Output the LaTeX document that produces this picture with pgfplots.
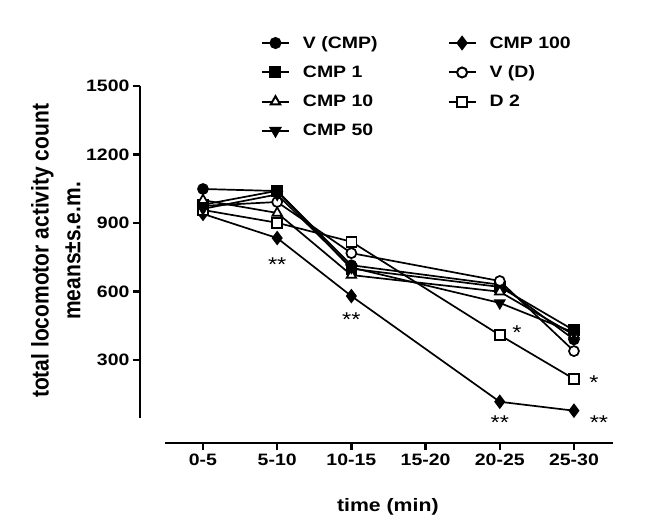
\documentclass[border=0pt]{standalone}
\usepackage{pgfplots}
\pgfplotsset{compat=1.18}
\usepackage{fontspec}
\setmainfont{Liberation Sans}[FakeStretch=1.18]
\newfontfamily\ylabfont{Liberation Sans}
\begin{document}
\begin{tikzpicture}
\begin{axis}[
 scale only axis, width=473pt, height=357pt,
 xmin=-0.849, xmax=5.526, ymin=-63.5, ymax=1500,
 axis lines=left, axis line style={draw=none},
 xtick={0,...,5}, xticklabels={0-5,5-10,10-15,15-20,20-25,25-30},
 ytick={300,600,900,1200,1500},
 tick align=outside, major tick length=7pt,
 tick style={line width=2.4pt, black},
 /pgf/number format/assume math mode=true,
 /pgf/number format/1000 sep={},
 tick label style={font=\bfseries\fontsize{16.5}{18}\selectfont},
 xlabel={time (min)},
 xlabel style={font=\bfseries\fontsize{18}{20}\selectfont, at={(axis description cs:0.524,-0.179)}, anchor=center},
 ylabel={total locomotor activity count\\means±s.e.m.},
 ylabel style={font=\ylabfont\bfseries\fontsize{21}{27.5}\selectfont, align=center, at={(axis description cs:-0.178,0.538)}, anchor=center, yscale=1.15},
 clip=false,
 every axis plot/.append style={line width=1.7pt, black, mark size=5pt},
 legend columns=2, legend cell align=left,
 legend style={draw=none, fill=none, at={(axis description cs:0.249,1.151)}, anchor=north west,
   font=\bfseries\fontsize{16.5}{18}\selectfont, row sep=12pt,
   /tikz/every even column/.append style={column sep=68pt}},
 legend image code/.code={\draw[mark repeat=2,mark phase=2,line width=2pt,#1] plot coordinates {(0pt,0pt) (13.5pt,0pt) (27pt,0pt)};
   \path[draw=none,fill=none] (0pt,0pt) -- (39pt,0pt);},
]
% V (CMP)
\addplot[mark=*, mark options={fill=black}] coordinates {(0,1049) (1,1040) (2,715) (4,630) (5,390)};
\addlegendentry{V (CMP)}
% CMP 100
\addplot[mark=diamond*, mark size=6pt, mark options={fill=black}] coordinates {(0,940) (1,834) (2,580) (4,117) (5,78)};
\addlegendentry{CMP 100}
% CMP 1
\addplot[mark=square*, mark options={fill=black}] coordinates {(0,980) (1,1041) (2,700) (4,620) (5,430)};
\addlegendentry{CMP 1}
% V (D)
\addplot[mark=*, mark options={fill=white}] coordinates {(0,975) (1,992) (2,768) (4,646) (5,339)};
\addlegendentry{V (D)}
% CMP 10
\addplot[mark=triangle*, mark size=5.5pt, mark options={fill=white}] coordinates {(0,1000) (1,944) (2,672) (4,599) (5,410)};
\addlegendentry{CMP 10}
% D 2
\addplot[mark=square*, mark options={fill=white}] coordinates {(0,957) (1,901) (2,818) (4,409) (5,217)};
\addlegendentry{D 2}
% CMP 50
\addplot[mark=triangle*, mark size=5.5pt, mark options={fill=black, rotate=180}] coordinates {(0,962) (1,1025) (2,705) (4,550) (5,420)};
\addlegendentry{CMP 50}

\draw[line width=2.8pt] (axis cs:-0.51,-63.5) -- (axis cs:5.526,-63.5);
\draw[line width=2.8pt] (axis cs:-0.849,46) -- (axis cs:-0.849,1500);

\node[font=\fontsize{20}{20}\selectfont, anchor=north, inner sep=0pt] at (axis cs:1,747) {**};
\node[font=\fontsize{20}{20}\selectfont, anchor=north, inner sep=0pt] at (axis cs:2,506) {**};
\node[font=\fontsize{20}{20}\selectfont, anchor=north, inner sep=0pt] at (axis cs:4,55) {**};
\node[font=\fontsize{20}{20}\selectfont, anchor=north, inner sep=0pt] at (axis cs:5.337,55) {**};
\node[font=\fontsize{20}{20}\selectfont, anchor=north, inner sep=0pt] at (axis cs:4.232,449) {*};
\node[font=\fontsize{20}{20}\selectfont, anchor=north, inner sep=0pt] at (axis cs:5.27,234) {*};
\end{axis}
\pgfresetboundingbox
\useasboundingbox (-140pt,-81pt) rectangle (516pt,443pt);
\end{tikzpicture}
\end{document}
